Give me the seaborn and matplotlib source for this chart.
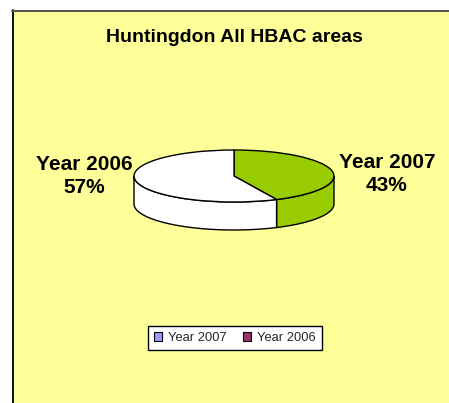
import numpy as np
import matplotlib
matplotlib.use("Agg")
import matplotlib.pyplot as plt
from matplotlib.patches import Patch, Rectangle
from matplotlib.lines import Line2D
import seaborn as sns

title = "Huntingdon All HBAC areas"
categories = ["Year 2007", "Year 2006"]
values = [43, 57]
slice_colors = ["#99CC00", "#FFFFFF"]
legend_colors = ["#9999FF", "#993366"]

sns.set_theme(style="white")
plt.rcParams["font.family"] = ["Liberation Sans", "DejaVu Sans"]

W, H = 449, 403
fig = plt.figure(figsize=(W / 100, H / 100), dpi=100, facecolor="white")


def fx(px):
    return px / W


def fy(py):
    return 1 - py / H


# chart area
fig.add_artist(Rectangle((fx(12), 0), 1 - fx(12), fy(10), transform=fig.transFigure,
                         facecolor="#FFFF99", edgecolor="none", zorder=-2))
fig.add_artist(Line2D([fx(13), fx(13)], [0, fy(10)], color="#111111", lw=1.44, zorder=-1))
fig.add_artist(Line2D([fx(12), 1], [fy(11), fy(11)], color="#555555", lw=1.44, zorder=-1))

# pie ellipse occupies this pixel box
L, R, T, B = 134, 334, 150, 202
ax = fig.add_axes([fx(L), fy(B), fx(R - L), fy(T) - fy(B)])
ax.patch.set_visible(False)

shares = np.array(values, dtype=float) / sum(values)
boundary = np.deg2rad(90 - 360 * shares[0])
depth = 2 * 28 / (B - T)


def side(t0, t1, color):
    t = np.linspace(t0, t1, 80)
    x, y = np.cos(t), np.sin(t)
    ax.fill(np.r_[x, x[::-1]], np.r_[y, y[::-1] - depth],
            facecolor=color, edgecolor="black", lw=1.0, clip_on=False, zorder=1)


side(boundary, 0, slice_colors[0])
side(-np.pi, boundary, slice_colors[1])

wedges, _ = ax.pie(values, colors=slice_colors, startangle=90, counterclock=False,
                   radius=1, wedgeprops=dict(edgecolor="black", linewidth=1.0, clip_on=False))
for w in wedges:
    w.set_zorder(2)
ax.set_aspect("auto")
ax.set_xlim(-1, 1)
ax.set_ylim(-1, 1)
ax.axis("off")

fig.text(fx(234), fy(37), title, ha="center", va="center", fontsize=14,
         fontweight="bold", color="black")
fig.text(fx(387), fy(174), f"{categories[0]}\n{values[0]}%", ha="center", va="center",
         fontsize=15, fontweight="bold", color="black", linespacing=1.22)
fig.text(fx(84), fy(176), f"{categories[1]}\n{values[1]}%", ha="center", va="center",
         fontsize=15, fontweight="bold", color="black", linespacing=1.22)

handles = [Patch(facecolor=c, edgecolor="black", linewidth=0.8, label=n)
           for c, n in zip(legend_colors, categories)]
leg = fig.legend(handles=handles, loc="center", bbox_to_anchor=(fx(235), fy(338)),
                 ncol=2, fontsize=9.3, frameon=True, fancybox=False, framealpha=1,
                 facecolor="white", edgecolor="black", handlelength=0.62,
                 handleheight=0.62, handletextpad=0.45, columnspacing=1.3,
                 borderpad=0.5, borderaxespad=0)
leg.get_frame().set_linewidth(1.0)

fig.savefig("out.png", dpi=100)
